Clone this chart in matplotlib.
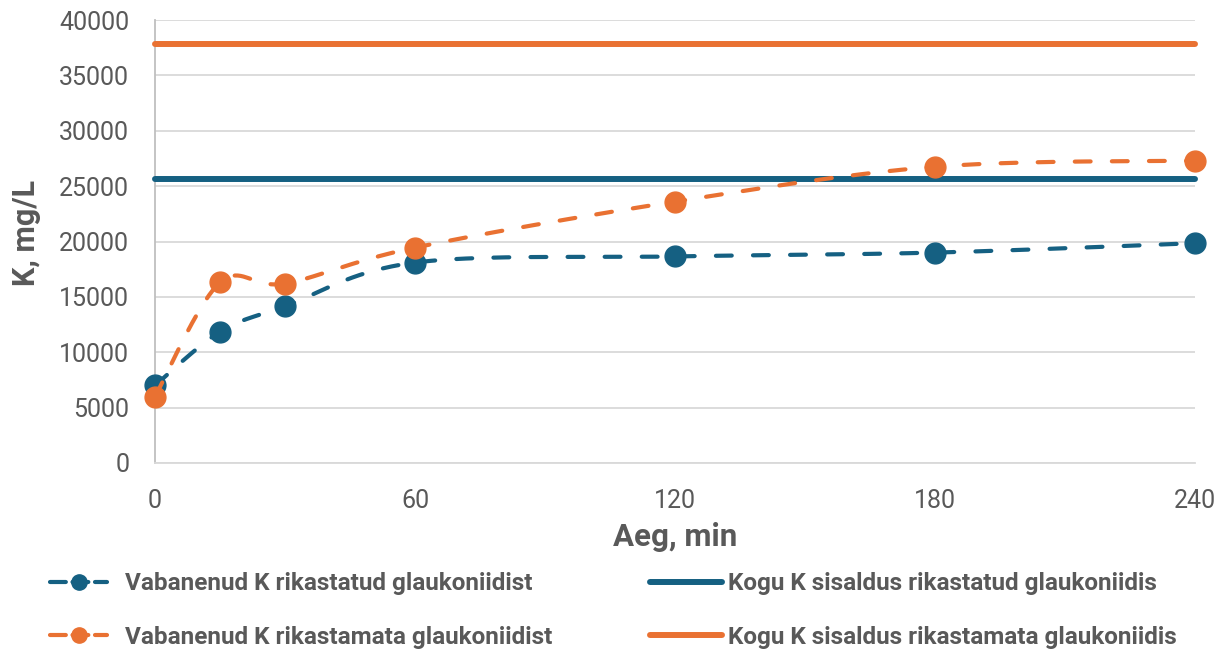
import numpy as np
import matplotlib
matplotlib.use("Agg")
import matplotlib.pyplot as plt
from matplotlib.lines import Line2D

# ---- data ----
time_min = [0, 15, 30, 60, 120, 180, 240]
released_enriched = [7000, 11850, 14150, 18100, 18650, 19000, 19850]
released_unenriched = [6000, 16300, 16200, 19450, 23600, 26750, 27300]
total_enriched = 25600
total_unenriched = 37800
x_ticks = [0, 60, 120, 180, 240]
y_ticks = list(range(0, 40001, 5000))

labels = ["Vabanenud K rikastatud glaukoniidist",
          "Vabanenud K rikastamata glaukoniidist",
          "Kogu K sisaldus rikastatud glaukoniidis",
          "Kogu K sisaldus rikastamata glaukoniidis"]

BLUE = "#156082"
ORANGE = "#E97132"
TXT = "#595959"
FONT = ["Roboto", "DejaVu Sans"]


def smooth(x, y, n=40):
    """Excel-like smoothing: cubic Bezier with Catmull-Rom control points."""
    x = np.asarray(x, float)
    y = np.asarray(y, float)
    px, py = [x[0]], [y[0]]
    t = np.linspace(0, 1, n)[1:]
    for i in range(len(x) - 1):
        i0 = max(i - 1, 0)
        i3 = min(i + 2, len(x) - 1)
        c1x = x[i] + (x[i + 1] - x[i0]) / 6
        c1y = y[i] + (y[i + 1] - y[i0]) / 6
        c2x = x[i + 1] - (x[i3] - x[i]) / 6
        c2y = y[i + 1] - (y[i3] - y[i]) / 6
        bx = ((1 - t) ** 3 * x[i] + 3 * (1 - t) ** 2 * t * c1x
              + 3 * (1 - t) * t ** 2 * c2x + t ** 3 * x[i + 1])
        by = ((1 - t) ** 3 * y[i] + 3 * (1 - t) ** 2 * t * c1y
              + 3 * (1 - t) * t ** 2 * c2y + t ** 3 * y[i + 1])
        px.extend(bx)
        py.extend(by)
    return np.array(px), np.array(py)


plt.rcParams['font.family'] = FONT
fig = plt.figure(figsize=(12.28, 6.51), dpi=100)
ax = fig.add_axes([155 / 1228, 1 - 463 / 651, (1195 - 155) / 1228, (463 - 20) / 651])

dash = (0, (3.8, 5.1))
lw_d = 3.0
ms = 15

# total lines
ax.plot([0, 240], [total_unenriched] * 2, color=ORANGE, lw=4.3,
        solid_capstyle='round', zorder=3, clip_on=False)
ax.plot([0, 240], [total_enriched] * 2, color=BLUE, lw=4.3,
        solid_capstyle='round', zorder=3, clip_on=False)

# released curves
for ys, c, z in [(released_enriched, BLUE, 4), (released_unenriched, ORANGE, 5)]:
    sx, sy = smooth(time_min, ys)
    ax.plot(sx, sy, color=c, lw=lw_d, linestyle=dash, dash_capstyle='round',
            zorder=z, clip_on=False)
    ax.plot(time_min, ys, linestyle='none', marker='o', ms=ms, color=c,
            zorder=z, clip_on=False)

ax.set_xlim(0, 240)
ax.set_ylim(0, 40000)
ax.set_xticks(x_ticks)
ax.set_yticks(y_ticks)
ax.tick_params(axis='both', length=0, labelsize=18, labelcolor=TXT)
ax.tick_params(axis='x', pad=19)
ax.tick_params(axis='y', pad=18.5)
ax.grid(axis='y', color="#D9D9D9", lw=1.3)
ax.set_axisbelow(True)
for s in ['top', 'right']:
    ax.spines[s].set_visible(False)
ax.spines['left'].set_color("#BFBFBF")
ax.spines['left'].set_linewidth(1.3)
ax.spines['bottom'].set_color("#D9D9D9")
ax.spines['bottom'].set_linewidth(1.3)

ax.set_xlabel("Aeg, min", fontsize=22.5, fontweight='bold', color=TXT, labelpad=6)
fig.text(26 / 1228, 1 - 233 / 651, "K, mg/L", rotation=90, ha='center',
         va='center', fontsize=22, fontweight='bold', color=TXT)

# legends
h1 = Line2D([], [], color=BLUE, lw=lw_d, linestyle=(0, (3.8, 1.6)),
            dash_capstyle='round', marker='o', ms=11)
h2 = Line2D([], [], color=ORANGE, lw=lw_d, linestyle=(0, (3.8, 1.6)),
            dash_capstyle='round', marker='o', ms=11)
h3 = Line2D([], [], color=BLUE, lw=4.3, solid_capstyle='round')
h4 = Line2D([], [], color=ORANGE, lw=4.3, solid_capstyle='round')

leg_kw = dict(frameon=False, labelspacing=1.25, borderaxespad=0, borderpad=0,
              prop={'family': FONT, 'weight': 'bold', 'size': 17.5})
leg1 = fig.legend([h1, h2], labels[:2], loc='center left', numpoints=1,
                  bbox_to_anchor=(50 / 1228, 1 - 610.5 / 651),
                  handlelength=2.35, handletextpad=0.75, **leg_kw)
leg2 = fig.legend([h3, h4], labels[2:], loc='center left',
                  bbox_to_anchor=(650 / 1228, 1 - 610.5 / 651),
                  handlelength=2.95, handletextpad=0.25, **leg_kw)
for lg in (leg1, leg2):
    for t in lg.get_texts():
        t.set_color(TXT)

fig.savefig("out.png", dpi=100, facecolor="white")
